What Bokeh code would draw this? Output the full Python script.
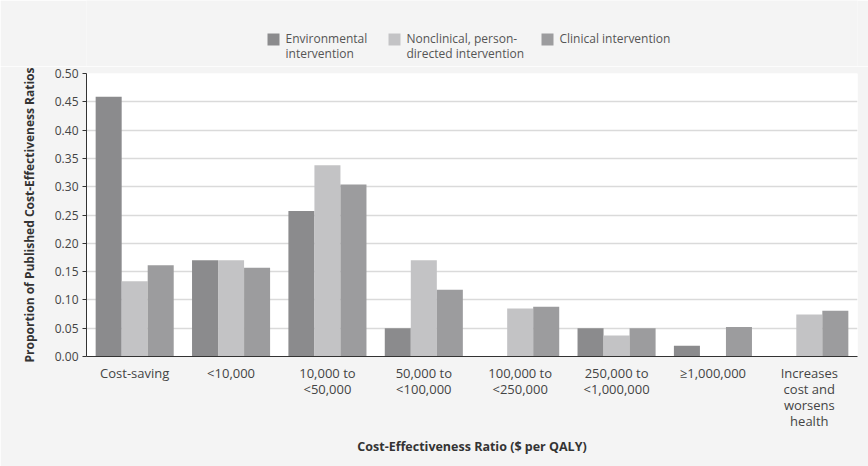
from bokeh.plotting import figure
from bokeh.layouts import column
from bokeh.models import (ColumnDataSource, FactorRange, Range1d, FixedTicker, NumeralTickFormatter)
from bokeh.core.properties import value
from bokeh.transform import dodge
from bokeh.embed import file_html
from bokeh.resources import INLINE

categories = ["Cost-saving", "<10,000", "10,000 to\n<50,000", "50,000 to\n<100,000",
              "100,000 to\n<250,000", "250,000 to\n<1,000,000", "\u22651,000,000",
              "Increases\ncost and\nworsens\nhealth"]
environmental = [0.459, 0.170, 0.257, 0.050, 0.0, 0.050, 0.019, 0.0]
nonclinical = [0.133, 0.170, 0.338, 0.170, 0.085, 0.037, 0.0, 0.074]
clinical = [0.161, 0.157, 0.304, 0.118, 0.088, 0.050, 0.052, 0.081]
series_labels = ["Environmental\nintervention", "Nonclinical, person-\ndirected intervention",
                 "Clinical intervention"]
series_colors = ["#8b8b8d", "#c3c3c5", "#9c9c9e"]
y_ticks = [0.0, 0.05, 0.10, 0.15, 0.20, 0.25, 0.30, 0.35, 0.40, 0.45, 0.50]

FONT = "Open Sans"
BG = "#f4f4f4"
W = 868
LEG_H = 66
MAIN_H = 400
FRAME_L, FRAME_R = 86, 857

# ---------- legend strip (pixel layout; its frame is aligned with the chart frame) ----------
legend_x = [267, 388, 541]
sq = 12
leg = figure(width=W, height=LEG_H, x_range=Range1d(FRAME_L, FRAME_R), y_range=Range1d(LEG_H, 0),
             output_backend="svg", toolbar_location=None, min_border=0)
leg.axis.visible = False
leg.grid.visible = False
leg.outline_line_color = None
leg.background_fill_color = BG
leg.border_fill_color = BG
leg_src = ColumnDataSource(dict(
    x=[lx + sq / 2 for lx in legend_x], y=[33 + sq / 2] * 3,
    tx=[lx + sq + 6 for lx in legend_x], ty=[29.5] * 3,
    color=series_colors, label=series_labels))
leg.rect(x="x", y="y", width=sq, height=sq, fill_color="color", line_color=None, source=leg_src)
leg.text(x="tx", y="ty", text="label", source=leg_src, text_font=value(FONT),
         text_font_size="12px", text_color="#555555", text_baseline="top",
         text_align="left", text_line_height=0.9)

# ---------- main chart ----------
source = ColumnDataSource(dict(cat=categories, env=environmental, non=nonclinical, cli=clinical))

p = figure(width=W, height=MAIN_H, x_range=FactorRange(*categories), y_range=Range1d(0, 0.5),
           output_backend="svg", toolbar_location=None,
           min_border_left=FRAME_L, min_border_right=W - FRAME_R, min_border_top=7,
           min_border_bottom=110)
p.background_fill_color = "#ffffff"
p.border_fill_color = BG
p.outline_line_color = None

bw = 0.27
cols = ["env", "non", "cli"]
offsets = [-bw, 0.0, bw]
for c, off, color in zip(cols, offsets, series_colors):
    p.vbar(x=dodge("cat", off, range=p.x_range), top=c, width=bw, source=source,
           fill_color=color, line_color=None)

# grid
p.xgrid.grid_line_color = None
p.ygrid.ticker = FixedTicker(ticks=y_ticks)
p.ygrid.grid_line_color = "#dadada"
p.ygrid.grid_line_width = 1.5

# y axis
p.yaxis.ticker = FixedTicker(ticks=y_ticks)
p.yaxis.formatter = NumeralTickFormatter(format="0.00")
p.yaxis.axis_label = "Proportion of Published Cost-Effectiveness Ratios"
p.yaxis.axis_label_text_font = FONT
p.yaxis.axis_label_text_font_style = "bold"
p.yaxis.axis_label_text_font_size = "12px"
p.yaxis.axis_label_text_color = "#333333"
p.yaxis.axis_label_standoff = 14
p.yaxis.major_label_text_font = FONT
p.yaxis.major_label_text_font_size = "12px"
p.yaxis.major_label_text_color = "#444444"
p.yaxis.major_tick_out = 4
p.yaxis.major_tick_in = 0
p.yaxis.minor_tick_out = 0
p.yaxis.minor_tick_in = 0
p.yaxis.major_label_standoff = 4
p.yaxis.axis_line_color = "#333333"
p.yaxis.major_tick_line_color = "#333333"

# x axis
p.xaxis.axis_label = "Cost-Effectiveness Ratio ($ per QALY)"
p.xaxis.axis_label_text_font = FONT
p.xaxis.axis_label_text_font_style = "bold"
p.xaxis.axis_label_text_font_size = "12.5px"
p.xaxis.axis_label_text_color = "#333333"
p.xaxis.axis_label_standoff = 5
p.xaxis.major_label_text_font = FONT
p.xaxis.major_label_text_font_size = "13px"
p.xaxis.major_label_text_color = "#444444"
p.xaxis.major_label_text_line_height = 0.9
p.xaxis.major_label_standoff = 7
p.xaxis.major_tick_out = 0
p.xaxis.major_tick_in = 0
p.xaxis.axis_line_color = "#333333"

layout = column(leg, p, spacing=0)
open("out.html", "w").write(file_html(layout, INLINE))
